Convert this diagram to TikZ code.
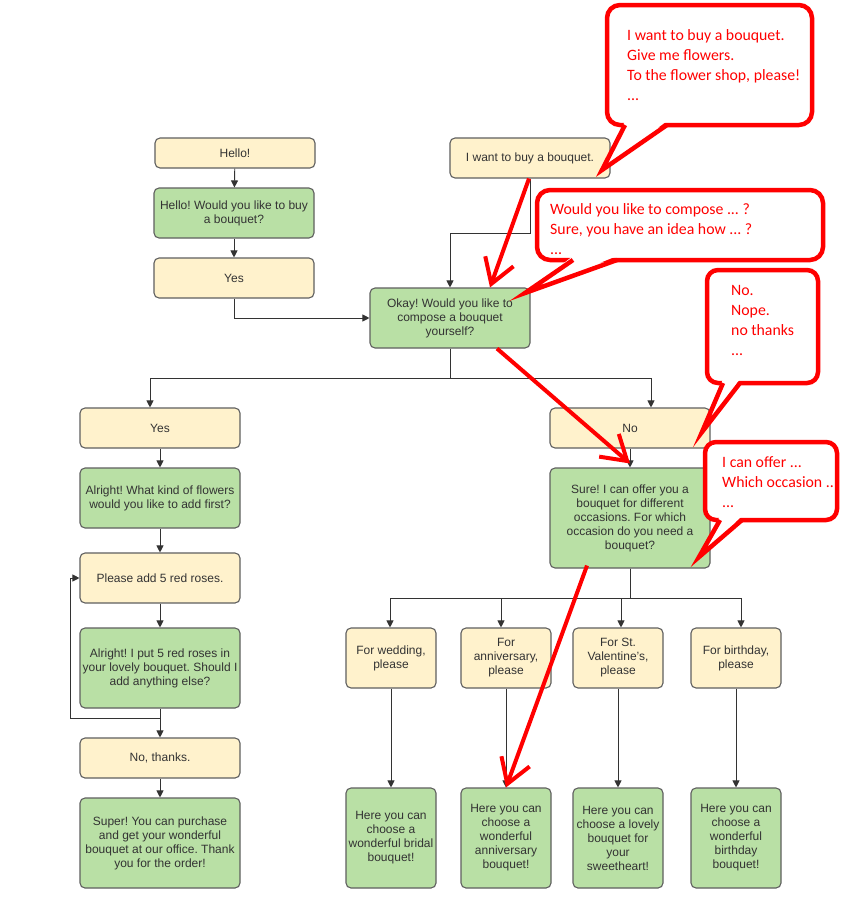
\documentclass[tikz,border=0pt]{standalone}
\usepackage{fontspec}
\setmainfont{Liberation Sans}
\newfontfamily\carl{Carlito}
\usetikzlibrary{arrows.meta,calc}
\definecolor{yfill}{HTML}{FFF2CC}
\definecolor{gfill}{HTML}{B9E0A5}
\definecolor{bline}{HTML}{5F5F5F}
\definecolor{txt}{HTML}{333333}
\definecolor{lin}{HTML}{333333}
\definecolor{cred}{HTML}{FF0000}
\newcommand\bxfont{\fontsize{12}{14}\selectfont}
\newcommand\clfont{\carl\fontsize{15.8}{20}\selectfont}
\frenchspacing
\tikzset{
  ybox/.style={draw=bline, fill=yfill, rounded corners=5pt, line width=1.1pt, text=txt, font=\bxfont, align=center, inner sep=0pt},
  gbox/.style={ybox, fill=gfill},
  conn/.style={draw=lin, line width=0.9pt, -{Triangle[length=7pt,width=7pt]}},
  redarr/.style={draw=cred, line width=4pt, -{Straight Barb[length=24pt,width=30pt]}},
  cbox/.style={draw=cred, line width=4.5pt, fill=white, rounded corners=13pt},
  ctail/.style={draw=cred, line width=4.5pt, line join=miter},
  ctext/.style={text=cred, font=\clfont, align=left, anchor=north west, inner sep=0pt}
}
\begin{document}
\begin{tikzpicture}[x=1pt,y=-1pt]
\useasboundingbox[fill=white] (0,0) rectangle (845,900);

% left top chain
\node[ybox, minimum width=160pt, minimum height=30pt] (hello) at (235,153) {Hello!};
\node[gbox, minimum width=160pt, minimum height=50pt] (q1) at (234,213) {Hello! Would you like to buy\\a bouquet?};
\node[ybox, minimum width=160pt, minimum height=40pt] (yes1) at (234,278) {Yes};
\node[ybox, minimum width=160pt, minimum height=40pt] (want) at (530,158) {I want to buy a bouquet.};
\node[gbox, minimum width=160pt, minimum height=60pt] (okay) at (450,318) {Okay! Would you like to\\compose a bouquet\\yourself?};

% yes branch
\node[ybox, minimum width=160pt, minimum height=40pt] (yes2) at (160,428) {Yes};
\node[gbox, minimum width=160pt, minimum height=60pt] (kind) at (160,498) {Alright! What kind of flowers\\would you like to add first?};
\node[ybox, minimum width=160pt, minimum height=50pt] (roses) at (160,578) {Please add 5 red roses.};
\node[gbox, minimum width=160pt, minimum height=80pt] (put) at (160,668) {Alright! I put 5 red roses in\\your lovely bouquet. Should I\\add anything else?};
\node[ybox, minimum width=160pt, minimum height=40pt] (nothx) at (160,758) {No, thanks.};
\node[gbox, minimum width=160pt, minimum height=90pt] (super) at (160,843) {Super! You can purchase\\and get your wonderful\\bouquet at our office. Thank\\you for the order!};

% no branch
\node[ybox, minimum width=160pt, minimum height=40pt] (no) at (630,428) {No};
\node[gbox, minimum width=160pt, minimum height=100pt] (sure) at (630,518) {Sure! I can offer you a\\bouquet for different\\occasions. For which\\occasion do you need a\\bouquet?};

\node[ybox, minimum width=90pt, minimum height=60pt] (o1) at (391,658) {For wedding,\\please};
\node[ybox, minimum width=90pt, minimum height=60pt] (o2) at (506,658) {For\\anniversary,\\please};
\node[ybox, minimum width=90pt, minimum height=60pt] (o3) at (618,658) {For St.\\Valentine's,\\please};
\node[ybox, minimum width=90pt, minimum height=60pt] (o4) at (736,658) {For birthday,\\please};

\node[gbox, minimum width=90pt, minimum height=100pt] (r1) at (391,838) {Here you can\\choose a\\wonderful bridal\\bouquet!};
\node[gbox, minimum width=90pt, minimum height=100pt] (r2) at (506,838) {Here you can\\choose a\\wonderful\\anniversary\\bouquet!};
\node[gbox, minimum width=90pt, minimum height=100pt] (r3) at (618,838) {Here you can\\choose a lovely\\bouquet for\\your\\sweetheart!};
\node[gbox, minimum width=90pt, minimum height=100pt] (r4) at (736,838) {Here you can\\choose a\\wonderful\\birthday\\bouquet!};

% connectors
\draw[conn] (hello) -- (q1);
\draw[conn] (q1) -- (yes1);
\draw[conn] (yes1.south) |- (okay.west);
\draw[conn] (want.south) -- ++(0,55) -| (okay.north);
\draw[conn] (okay.south) -- ++(0,30) -| ([xshift=-10pt]yes2.north);
\draw[conn] (okay.south) -- ++(0,30) -| ([xshift=21pt]no.north);
\draw[conn] (yes2) -- (kind);
\draw[conn] (kind) -- (roses);
\draw[conn] (roses) -- (put);
\draw[conn] (put) -- (nothx);
\draw[conn] (nothx) -- (super);
\coordinate (lp) at ($(put.south)+(0,10)$);
\draw[conn] (lp) -- ++(-90,0) |- (roses.west);
\draw[conn] (no) -- (sure);
\draw[conn] (sure.south) -- ++(0,30) -| ([xshift=-1pt]o1.north);
\draw[conn] (sure.south) -- ++(0,30) -| ([xshift=-5pt]o2.north);
\draw[conn] (sure.south) -- ++(0,30) -| ([xshift=3pt]o3.north);
\draw[conn] (sure.south) -- ++(0,30) -| ([xshift=5pt]o4.north);
\draw[conn] (o1) -- (r1);
\draw[conn] (o2) -- (r2);
\draw[conn] (o3) -- (r3);
\draw[conn] (o4) -- (r4);

% red arrows
\draw[redarr] ([xshift=-1pt]want.south) -- ([xshift=40pt]okay.north);
\draw[redarr] ([xshift=47pt]okay.south) -- ([yshift=4pt]sure.north);
\draw[redarr] ([xshift=-43pt,yshift=3pt]sure.south) -- (r2.north);

% callout 1
\draw[cbox] (607,5) rectangle (812,125);
\fill[white] (625,121) -- (667,121) -- (602,170) -- cycle;
\draw[ctail] (625,125) -- (602,170) -- (667,125);
\node[ctext] (c1) at (627,29) {I want to buy a bouquet.\\Give me flowers.\\To the flower shop, please!\\...};

% callout 2
\draw[cbox] (537,190) rectangle (823,260);
\fill[white] (573,256) -- (617,256) -- (525,293) -- cycle;
\draw[ctail] (573,260) -- (525,293) -- (617,260);
\node[ctext] (c2) at (550,203) {Would you like to compose ... ?\\Sure, you have an idea how ... ?\\...};

% callout 3
\draw[cbox, rounded corners=11pt] (707,270) rectangle (818,383);
\fill[white] (723,379) -- (740,379) -- (702,432) -- cycle;
\draw[ctail] (723,383) -- (702,432) -- (740,383);
\node[ctext] (c3) at (731,285) {No.\\Nope.\\no thanks\\...};

% callout 4
\draw[cbox, rounded corners=11pt] (705,442) rectangle (837,520);
\fill[white] (720,516) -- (742,516) -- (699,557) -- cycle;
\draw[ctail] (720,520) -- (699,557) -- (742,520);
\node[ctext] (c4) at (722,456) {I can offer ...\\Which occasion ..\\...};
\end{tikzpicture}
\end{document}
